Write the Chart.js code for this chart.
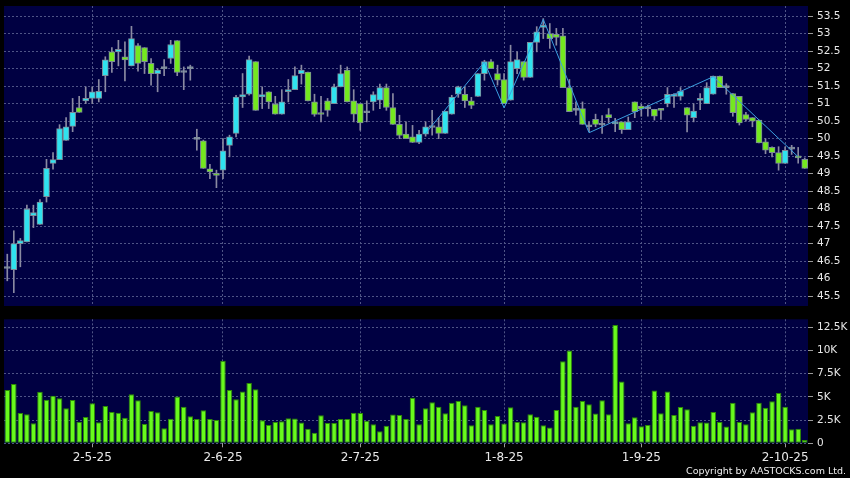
<!DOCTYPE html>
<html>
<head>
<meta charset="utf-8">
<script src="https://cdn.jsdelivr.net/npm/chart.js@4.4.1/dist/chart.umd.min.js"></script>
<style>
  html, body { margin: 0; padding: 0; background: #000; }
  #wrap { position: relative; width: 850px; height: 478px; overflow: hidden; }
  #priceChart { position: absolute; left: 0; top: 0; }
  #volChart { position: absolute; left: 0; top: 310px; }
  #copy { position: absolute; right: 4px; top: 465px; font: 9.5px "DejaVu Sans"; color: #eee; white-space: nowrap; }
</style>
</head>
<body>
<div id="wrap">
  <canvas id="priceChart" width="850" height="310"></canvas>
  <canvas id="volChart" width="850" height="168"></canvas>
  <div id="copy">Copyright by AASTOCKS.com Ltd.</div>
</div>
<script>
// daily OHLC
const open = [46.29,46.26,47.00,47.05,47.80,47.55,48.34,49.29,49.40,49.95,
  50.35,50.89,51.08,51.15,51.15,51.80,52.48,52.48,52.34,52.08,
  52.66,52.60,52.15,51.86,52.00,52.29,52.80,51.89,52.00,49.98,
  49.94,49.14,49.00,49.10,49.81,50.15,51.19,51.27,52.20,51.19,
  51.34,50.99,50.70,51.34,51.40,51.86,51.90,51.05,50.74,51.08,
  51.00,51.48,51.96,51.08,51.00,50.74,51.05,51.10,51.46,50.89,
  50.41,50.13,50.05,49.89,50.13,50.32,50.34,50.15,50.70,51.27,
  51.27,51.08,51.21,51.86,52.20,51.86,51.69,51.10,52.00,52.20,
  51.75,52.75,53.18,53.00,52.98,52.94,51.46,50.81,50.86,50.34,
  50.55,50.39,50.69,50.42,50.48,50.26,51.05,50.93,50.86,50.84,
  50.85,51.00,51.21,51.21,50.89,50.60,51.09,51.00,51.27,51.79,
  51.46,51.29,51.21,50.69,50.60,50.53,49.91,49.75,49.60,49.29,
  49.70,49.50,49.41];
const high = [46.70,47.37,47.15,48.10,48.10,48.26,49.41,49.60,50.40,50.60,
  51.15,51.21,51.48,51.48,51.69,52.34,52.60,52.81,52.77,53.21,
  52.72,52.60,52.29,52.00,52.26,52.81,52.80,52.05,52.10,50.27,
  49.96,49.27,49.10,50.00,50.10,51.24,51.86,52.36,52.20,51.48,
  51.34,51.21,51.40,51.69,52.05,52.10,51.90,51.27,51.21,51.15,
  51.56,52.10,52.05,51.40,51.00,51.08,51.34,51.56,51.56,51.29,
  50.67,50.48,50.38,50.24,50.48,50.81,50.60,50.79,51.24,51.50,
  51.48,51.18,51.86,52.24,52.26,52.10,51.86,52.67,52.48,52.20,
  52.75,53.20,53.43,53.29,53.15,53.15,51.69,51.05,51.05,50.48,
  50.70,50.66,50.86,50.58,50.48,50.62,51.05,50.98,50.96,50.84,
  50.85,51.46,51.29,51.46,50.89,51.00,51.29,51.60,51.79,51.79,
  51.57,51.29,51.21,50.75,50.60,50.53,50.00,49.77,49.77,49.77,
  49.81,49.75,49.45];
const low = [45.94,45.60,46.34,47.05,47.46,47.55,48.19,49.13,49.40,49.95,
  50.20,50.75,51.00,51.00,51.05,51.34,51.89,52.08,51.65,52.08,
  51.93,51.86,51.53,51.34,51.80,52.15,51.80,51.40,51.67,49.67,
  49.15,48.86,48.60,48.86,49.48,50.05,50.89,51.24,50.81,50.86,
  50.86,50.70,50.70,51.05,51.40,51.56,51.08,50.64,50.48,50.64,
  51.00,51.48,51.05,50.48,50.24,50.48,50.81,50.86,50.81,50.41,
  50.00,50.00,49.89,49.86,50.07,50.10,50.00,50.15,50.70,51.18,
  50.89,50.86,51.21,51.67,52.00,51.53,51.00,51.10,51.86,51.67,
  51.75,52.48,52.86,52.58,52.67,51.46,50.77,50.67,50.41,50.20,
  50.34,50.15,50.45,50.20,50.15,50.26,50.60,50.64,50.64,50.53,
  50.55,50.91,50.89,51.10,50.19,50.48,50.83,51.00,51.27,51.46,
  51.27,50.64,50.39,50.50,50.34,49.88,49.57,49.48,49.10,49.29,
  49.55,49.30,49.15];
const close = [46.29,47.00,47.09,47.99,47.89,48.19,49.15,49.40,50.29,50.34,
  50.75,50.75,51.15,51.34,51.35,52.25,52.20,52.55,52.25,52.86,
  52.15,52.20,51.86,51.96,52.00,52.69,51.89,51.89,52.00,49.98,
  49.15,49.05,48.95,49.65,50.05,51.19,51.26,52.26,50.81,51.26,
  51.05,50.70,51.05,51.40,51.80,51.96,51.08,50.69,50.69,50.81,
  51.48,51.86,51.05,50.70,50.45,50.74,51.26,51.46,50.89,50.41,
  50.09,50.00,49.89,50.13,50.34,50.32,50.15,50.79,51.19,51.48,
  51.08,50.95,51.86,52.20,52.00,51.67,51.00,52.20,52.26,51.75,
  52.75,53.05,53.22,52.86,52.89,51.46,50.77,50.81,50.41,50.34,
  50.41,50.39,50.60,50.47,50.26,50.48,50.77,50.85,50.86,50.64,
  50.81,51.27,51.27,51.36,50.67,50.79,51.15,51.46,51.79,51.46,
  51.46,50.74,50.45,50.55,50.50,49.88,49.67,49.60,49.29,49.67,
  49.70,49.45,49.15];

// volume in thousands
const volume = [5.74,6.39,3.27,3.12,2.15,5.56,4.70,5.13,4.85,3.77,
  4.67,2.33,2.83,4.31,2.26,4.02,3.37,3.30,2.76,5.28,
  4.63,2.08,3.48,3.34,1.61,2.65,5.03,3.95,2.91,2.62,
  3.55,2.62,2.51,8.90,5.75,4.74,5.57,6.50,5.82,2.48,
  1.98,2.30,2.37,2.69,2.66,2.23,1.58,1.15,3.02,2.19,
  2.19,2.62,2.62,3.30,3.27,2.44,2.05,1.29,1.90,3.09,
  3.05,2.62,4.92,2.05,3.77,4.42,3.95,3.23,4.38,4.56,
  4.09,1.94,3.95,3.59,2.05,2.95,2.12,3.88,2.30,2.26,
  3.12,2.87,1.94,1.69,3.59,8.84,9.99,3.95,4.56,4.20,
  3.20,4.63,3.12,12.75,6.65,2.16,2.80,1.83,1.98,5.68,
  3.23,5.57,3.05,3.92,3.66,1.90,2.26,2.23,3.38,2.30,
  1.80,4.38,2.30,2.05,3.34,4.38,3.84,4.53,5.42,3.95,
  1.51,1.58,0.36];

// zigzag turning points (bar index, price)
const zigIndex = [64, 73, 76, 82, 89, 108, 121];
const zigValue = [50.15, 52.19, 50.88, 53.41, 50.17, 51.77, 49.48];

// axis ticks
const tickIndex = [13, 33, 54, 76, 97, 119];
const tickText = ['2-5-25', '2-6-25', '2-7-25', '1-8-25', '1-9-25', '2-10-25'];
const priceTicks = [45.5, 46, 46.5, 47, 47.5, 48, 48.5, 49, 49.5, 50, 50.5, 51, 51.5, 52, 52.5, 53, 53.5];
const volTicks = [0, 2.5, 5, 7.5, 10, 12.5];
const volTickText = ['0', '2.5K', '5K', '7.5K', '10K', '12.5K'];

const UP = '#2fe2ef', DOWN = '#74e81f', FLAT = '#8e9cab';
const GRID = '#4f5486', LABEL = '#e8e8e8', TICK = '#9a9a9a';
const FONT = 'DejaVu Sans';

const n = close.length;
const labels = Array.from({length: n}, (_, i) => {
    const k = tickIndex.indexOf(i);
    return k >= 0 ? tickText[k] : '';
});
const isTick = i => tickIndex.includes(i);

const wickData = low.map((l, i) => [l, high[i]]);
const bodyData = open.map((o, i) => [Math.min(o, close[i]), Math.max(o, close[i])]);
const bodyColor = open.map((o, i) => close[i] > o ? UP : (close[i] < o ? DOWN : FLAT));
const zigData = new Array(n).fill(null);
zigIndex.forEach((ix, k) => { zigData[ix] = zigValue[k]; });

// navy plot area behind everything
const plotBg = {
    id: 'plotBg',
    beforeDraw(chart) {
        const {ctx, chartArea: a} = chart;
        ctx.save();
        ctx.fillStyle = '#000042';
        ctx.fillRect(a.left, a.top, a.width, a.height);
        ctx.restore();
    }
};

function xAxis(showLabels) {
    return {
        offset: true,
        afterFit: s => { s.height = showLabels ? 34.7 : 0; },
        border: {display: false, dash: [2, 2]},
        grid: {
            offset: false,
            color: c => isTick(c.index) ? GRID : 'transparent',
            drawTicks: showLabels,
            tickLength: 4,
            tickColor: c => isTick(c.index) ? TICK : 'transparent',
            tickBorderDash: []
        },
        ticks: {
            display: showLabels,
            autoSkip: false,
            maxRotation: 0,
            padding: 3,
            color: LABEL,
            font: {family: FONT, size: 12},
            callback: (v, i) => labels[i]
        }
    };
}

function yAxis(min, max, values, fmt) {
    return {
        position: 'right',
        min: min,
        max: max,
        afterBuildTicks: s => { s.ticks = values.map(v => ({value: v})); },
        afterFit: s => {
            s.width = 42;
            s.paddingTop = 0;
            s.paddingBottom = 0;
        },
        border: {display: false, dash: [2, 2]},
        grid: {color: GRID, tickLength: 5, tickColor: TICK, tickBorderDash: []},
        ticks: {
            padding: 4,
            color: LABEL,
            font: {family: FONT, size: 10.5},
            callback: fmt
        }
    };
}

const common = {
    responsive: false,
    animation: false,
    devicePixelRatio: 1,
    events: [],
    plugins: {legend: {display: false}, tooltip: {enabled: false}}
};

new Chart(document.getElementById('priceChart'), {
    type: 'bar',
    data: {
        labels: labels,
        datasets: [
            {
                type: 'line',
                data: zigData,
                borderColor: '#3b9fe0',
                borderWidth: 1,
                pointRadius: 0,
                spanGaps: true,
                tension: 0,
                order: 0
            },
            {
                data: bodyData,
                backgroundColor: bodyColor,
                borderColor: '#7d8b99',
                borderWidth: 1,
                borderSkipped: false,
                barThickness: 6,
                minBarLength: 2,
                grouped: false,
                order: 1
            },
            {
                data: wickData,
                backgroundColor: '#8a8aa2',
                borderWidth: 0,
                barThickness: 1,
                grouped: false,
                order: 2
            }
        ]
    },
    options: {
        ...common,
        layout: {padding: {left: 4, top: 6, right: 0, bottom: 4}},
        scales: {
            x: xAxis(false),
            y: yAxis(45.22, 53.79, priceTicks, v => String(v))
        }
    },
    plugins: [plotBg]
});

new Chart(document.getElementById('volChart'), {
    type: 'bar',
    data: {
        labels: labels,
        datasets: [{
            data: volume,
            backgroundColor: '#68fa1c',
            borderColor: '#2d8a06',
            borderWidth: 1,
            borderSkipped: false,
            barPercentage: 0.85,
            categoryPercentage: 1
        }]
    },
    options: {
        ...common,
        layout: {padding: {left: 4, top: 9.3, right: 0, bottom: 0}},
        scales: {
            x: xAxis(true),
            y: yAxis(0, 13.36, volTicks, (v, i) => volTickText[i])
        }
    },
    plugins: [plotBg]
});
</script>
</body>
</html>
